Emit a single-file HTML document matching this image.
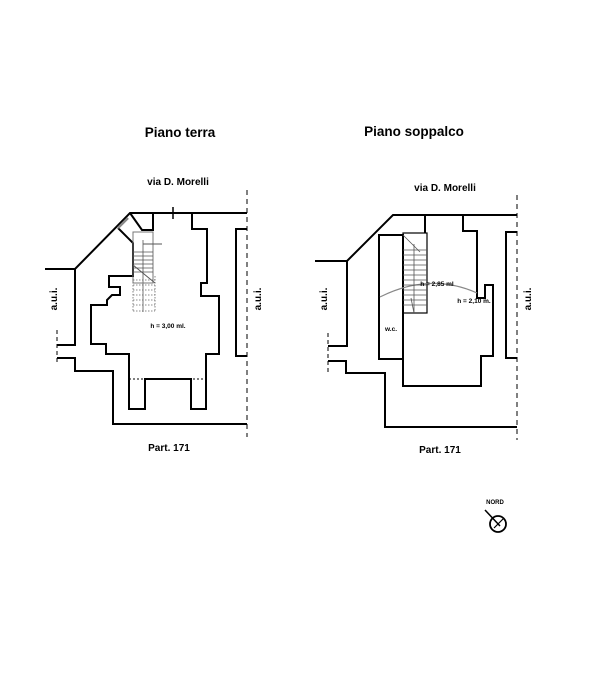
<!DOCTYPE html>
<html><head><meta charset="utf-8"><style>
html,body{margin:0;padding:0;background:#fff;width:600px;height:679px;overflow:hidden}
svg{display:block}
text{font-family:"Liberation Sans",Arial,sans-serif;font-weight:bold;fill:#000}
</style></head><body>
<svg width="600" height="679" viewBox="0 0 600 679">
<g fill="none" stroke="#000" stroke-width="2" stroke-linejoin="miter">
<polyline points="247,213 130,213 75,269 45,269"/>
<polyline points="75,269 75,345 57,345"/>
<polyline points="57,358 75,358 75,371 113,371 113,424 247,424"/>
<polyline points="247,229 236,229 236,356 247,356"/>
<polyline points="130,213 142,230 153,230 153,213"/>
<polyline points="118,228 133,243 133,276 109,276 109,287 120,287 120,295 112,295 107,300 107,305 91,305 91,344 106,344 106,354 129,354 129,409 145,409 145,379 191,379 191,409 206,409 206,354 219,354 219,296 201,296 201,283 207,283 207,229 192,229 192,213"/>
<line x1="173" y1="207" x2="173" y2="219" stroke-width="1.5"/>
</g>
<g stroke="#000" fill="none">
<line x1="247" y1="190" x2="247" y2="437" stroke-width="1" stroke-dasharray="5,4"/>
<line x1="57" y1="330" x2="57" y2="365" stroke-width="1" stroke-dasharray="4,3"/>
<line x1="129" y1="379" x2="206" y2="379" stroke-width="1" stroke-dasharray="2,2"/>
<rect x="133" y="232" width="20" height="51" stroke="#777" stroke-width="1"/>
<line x1="143" y1="240" x2="143" y2="312" stroke="#777" stroke-width="1"/>
<line x1="133" y1="265" x2="155" y2="283" stroke="#555" stroke-width="1"/>
<line x1="143" y1="244" x2="162" y2="244" stroke="#555" stroke-width="1"/>
<line x1="118" y1="228" x2="128" y2="218" stroke="#888" stroke-width="2.5"/>
</g>
<g stroke="#555" stroke-width="0.8">
<line x1="133" y1="252" x2="153" y2="252"/><line x1="133" y1="256" x2="153" y2="256"/>
<line x1="133" y1="260" x2="153" y2="260"/><line x1="133" y1="264" x2="153" y2="264"/>
<line x1="133" y1="268" x2="153" y2="268"/><line x1="133" y1="272" x2="153" y2="272"/>
</g>
<g stroke="#666" stroke-width="0.8" stroke-dasharray="1.5,1.5">
<line x1="133" y1="276" x2="133" y2="312"/><line x1="155" y1="276" x2="155" y2="312"/>
<line x1="133" y1="280" x2="155" y2="280"/><line x1="133" y1="285" x2="155" y2="285"/>
<line x1="133" y1="290" x2="155" y2="290"/><line x1="133" y1="295" x2="155" y2="295"/>
<line x1="133" y1="300" x2="155" y2="300"/><line x1="133" y1="305" x2="155" y2="305"/>
<line x1="133" y1="311" x2="155" y2="311"/>
</g>

<g fill="none" stroke="#000" stroke-width="2">
<polyline points="517,215 393,215 347,261 315,261"/>
<polyline points="347,261 347,346 328,346"/>
<polyline points="328,361 346,361 346,373 385,373 385,427 517,427"/>
<polyline points="517,232 506,232 506,358 517,358"/>
<rect x="379" y="235" width="24" height="124"/>
<polyline points="403,235 403,386 481,386 481,356 493,356 493,285 485,285 485,298 477,298 477,231 463,231 463,215"/>
<line x1="425" y1="215" x2="425" y2="233"/>
<rect x="403" y="233" width="24" height="80" stroke-width="1.2"/>
</g>
<g stroke="#000" fill="none">
<line x1="517" y1="195" x2="517" y2="440" stroke-width="1" stroke-dasharray="5,4"/>
<line x1="328" y1="333" x2="328" y2="372" stroke-width="1" stroke-dasharray="4,3"/>
<path d="M380,297 Q430,272 477,293" stroke="#888" stroke-width="1.2"/>
<line x1="414" y1="244" x2="414" y2="313" stroke="#555" stroke-width="0.8"/>
<line x1="403" y1="235" x2="420" y2="252" stroke="#555" stroke-width="0.8"/>
<line x1="411" y1="298" x2="414" y2="313" stroke="#555" stroke-width="0.8"/>
</g>
<g stroke="#555" stroke-width="0.8">
<line x1="403" y1="250" x2="427" y2="250"/><line x1="403" y1="255" x2="427" y2="255"/>
<line x1="403" y1="260" x2="427" y2="260"/><line x1="403" y1="265" x2="427" y2="265"/>
<line x1="403" y1="270" x2="427" y2="270"/><line x1="403" y1="275" x2="427" y2="275"/>
<line x1="403" y1="280" x2="427" y2="280"/><line x1="403" y1="285" x2="427" y2="285"/>
<line x1="403" y1="290" x2="427" y2="290"/><line x1="403" y1="295" x2="427" y2="295"/>
<line x1="403" y1="300" x2="427" y2="300"/><line x1="403" y1="305" x2="427" y2="305"/>
</g>

<text x="180" y="137" font-size="13.5" text-anchor="middle">Piano terra</text>
<text x="414" y="136" font-size="13.5" text-anchor="middle">Piano soppalco</text>
<text x="178" y="185" font-size="10" text-anchor="middle">via D. Morelli</text>
<text x="445" y="191" font-size="10" text-anchor="middle">via D. Morelli</text>
<text x="169" y="451" font-size="10" text-anchor="middle">Part. 171</text>
<text x="440" y="453" font-size="10" text-anchor="middle">Part. 171</text>
<text x="168" y="328" font-size="6.5" text-anchor="middle" font-weight="normal">h = 3,00 ml.</text>
<text x="437" y="286" font-size="6.5" text-anchor="middle" font-weight="normal">h = 2,85 ml</text>
<text x="474" y="303" font-size="6.5" text-anchor="middle" font-weight="normal">h = 2,10 m.</text>
<text x="391" y="331" font-size="6.5" text-anchor="middle" font-weight="normal">w.c.</text>
<text transform="translate(57,299) rotate(-90)" font-size="10" text-anchor="middle">a.u.i.</text>
<text transform="translate(261,299) rotate(-90)" font-size="10" text-anchor="middle">a.u.i.</text>
<text transform="translate(327,299) rotate(-90)" font-size="10" text-anchor="middle">a.u.i.</text>
<text transform="translate(531,299) rotate(-90)" font-size="10" text-anchor="middle">a.u.i.</text>

<text x="495" y="504" font-size="6" text-anchor="middle">NORD</text>
<circle cx="498" cy="524" r="8" fill="none" stroke="#000" stroke-width="1.8"/>
<line x1="485" y1="510" x2="500" y2="526" stroke="#000" stroke-width="1.5"/>
<line x1="494" y1="528" x2="504" y2="518" stroke="#000" stroke-width="1.2"/>
</svg>
</body></html>
